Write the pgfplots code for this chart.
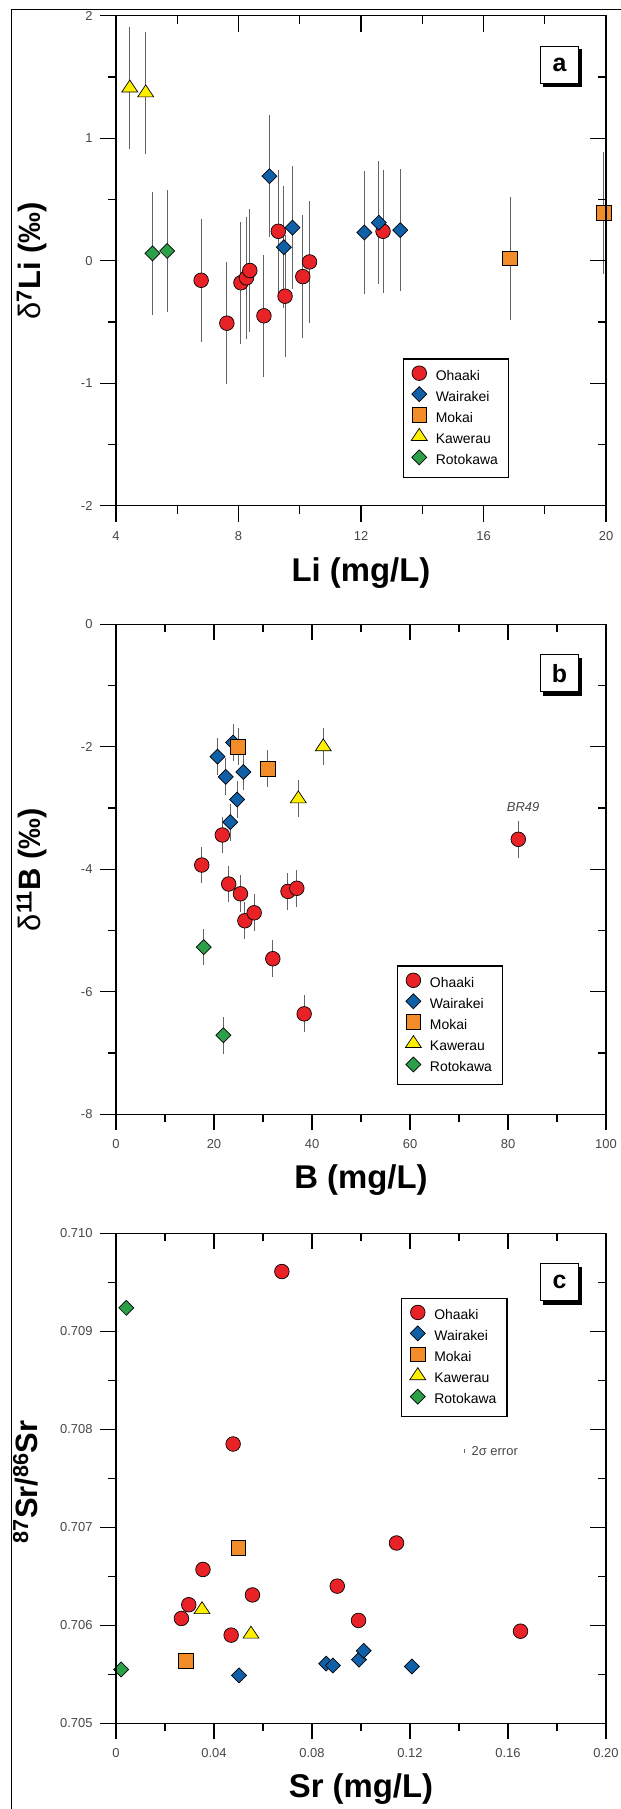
\documentclass[border=0pt]{standalone}
\usepackage{pgfplots}
\usepackage{pgfplotstable}
\pgfplotsset{compat=1.18}
\usepackage{fontspec}
\setmainfont{Liberation Sans}

\definecolor{ohaaki}{RGB}{232,34,38}
\definecolor{wairakei}{RGB}{16,96,168}
\definecolor{mokai}{RGB}{242,140,40}
\definecolor{kawerau}{RGB}{255,240,0}
\definecolor{rotokawa}{RGB}{44,160,72}
\definecolor{ticktext}{RGB}{70,70,70}
\definecolor{errgray}{RGB}{100,100,100}

% ---- panel a: Li (mg/L), d7Li, 2 sigma = 0.5
\pgfplotstableread{
x y e
6.78 -0.16 0.5
7.62 -0.51 0.5
8.08 -0.18 0.5
8.26 -0.14 0.5
8.37 -0.08 0.5
8.83 -0.45 0.5
9.30 0.24 0.5
9.52 -0.29 0.5
10.10 -0.13 0.5
10.32 -0.01 0.5
12.72 0.24 0.5
}\aOhaaki
\pgfplotstableread{
x y e
9.01 0.69 0.5
9.48 0.11 0.5
9.76 0.27 0.5
12.11 0.23 0.5
12.58 0.31 0.5
13.28 0.25 0.5
}\aWairakei
\pgfplotstableread{
x y e
16.87 0.02 0.5
19.93 0.39 0.5
}\aMokai
\pgfplotstableread{
x y e
4.45 1.41 0.5
4.97 1.37 0.5
}\aKawerau
\pgfplotstableread{
x y e
5.19 0.06 0.5
5.67 0.08 0.5
}\aRotokawa

% ---- panel b: B (mg/L), d11B
\pgfplotstableread{
x y e
17.5 -3.93 0.3
21.7 -3.44 0.3
23.0 -4.24 0.3
25.4 -4.40 0.3
26.3 -4.84 0.3
28.2 -4.71 0.3
32.0 -5.46 0.3
35.1 -4.36 0.3
36.9 -4.31 0.3
38.4 -6.36 0.3
82.1 -3.51 0.3
}\bOhaaki
\pgfplotstableread{
x y e
20.7 -2.16 0.3
23.9 -1.93 0.3
22.4 -2.49 0.3
26.0 -2.41 0.3
24.7 -2.86 0.3
23.3 -3.23 0.3
}\bWairakei
\pgfplotstableread{
x y e
24.9 -2.00 0.3
31.0 -2.36 0.3
}\bMokai
\pgfplotstableread{
x y e
42.3 -2.00 0.3
37.2 -2.85 0.3
}\bKawerau
\pgfplotstableread{
x y e
17.9 -5.27 0.3
21.9 -6.71 0.3
}\bRotokawa

% ---- panel c: Sr (mg/L), 87Sr/86Sr
\pgfplotstableread{
x y
0.0677 0.70961
0.0478 0.70785
0.1145 0.70684
0.0355 0.70657
0.0903 0.70640
0.0557 0.70631
0.0297 0.70621
0.0267 0.70607
0.0990 0.70605
0.0470 0.70590
0.1651 0.70594
}\cOhaaki
\pgfplotstableread{
x y
0.0502 0.70549
0.0858 0.70561
0.0885 0.70559
0.0992 0.70565
0.1011 0.70574
0.1208 0.70558
}\cWairakei
\pgfplotstableread{
x y
0.0499 0.70679
0.0284 0.70564
}\cMokai
\pgfplotstableread{
x y
0.0351 0.70616
0.0551 0.70591
}\cKawerau
\pgfplotstableread{
x y
0.0042 0.70924
0.0021 0.70555
}\cRotokawa

\pgfplotsset{
  panel/.style={
    width=490bp, height=490bp, scale only axis,
    anchor=north west,
    clip=false,
    axis line style={line width=1.3bp},
    major tick length=16bp, minor tick length=8bp,
    every tick/.style={line width=1.3bp, black},
    minor x tick num=1, minor y tick num=1,
    tick label style={font=\fontsize{13}{13}\selectfont, text=ticktext},
    xticklabel style={yshift=-6bp},
    yticklabel style={xshift=-4bp},
  },
  outer/.style={panel, tick align=outside, xtick pos=left, ytick pos=left,
    legend style={anchor=north west, draw=black, line width=1.3bp, fill=white,
      inner xsep=8bp, inner ysep=7bp, font=\fontsize{14}{14}\selectfont,
      row sep=0.6bp, column sep=6bp,
      nodes={inner sep=2.6bp, text height=10.5bp, text depth=3bp},
      cells={anchor=west}},
    legend image code/.code={\draw[#1] plot coordinates {(0bp,3.5bp)};},
  },
  inner/.style={panel, tick align=inside, xtick pos=right, ytick pos=right,
    xticklabels={}, yticklabels={}},
  err/.style={forget plot, only marks, mark=none,
    error bars/.cd, y dir=both, y explicit, error mark=none,
    error bar style={line width=1bp, draw=errgray}},
  mOhaaki/.style={only marks, mark=*, mark size=7.3bp,
    mark options={fill=ohaaki, draw=black, line width=0.7bp}},
  mWairakei/.style={only marks, mark=square*, mark size=5.3bp,
    mark options={rotate=45, fill=wairakei, draw=black, line width=0.7bp}},
  mMokai/.style={only marks, mark=square*, mark size=7.4bp,
    mark options={fill=mokai, draw=black, line width=0.7bp}},
  mKawerau/.style={only marks, mark=triangle*, mark size=8bp,
    mark options={xscale=1.15, fill=kawerau, draw=black, line width=0.7bp}},
  mRotokawa/.style={only marks, mark=square*, mark size=5.3bp,
    mark options={rotate=45, fill=rotokawa, draw=black, line width=0.7bp}},
}

\newcommand{\panellabel}[1]{%
  \node[fill=black, minimum width=39bp, minimum height=38bp, inner sep=0pt]
    at ([shift={(3.5bp,-3.5bp)}]rel axis cs:0.905,0.9) {};
  \node[draw=black, line width=1.3bp, fill=white, minimum width=38bp,
    minimum height=37bp, inner sep=0pt,
    font=\fontsize{25}{25}\bfseries\selectfont]
    at (rel axis cs:0.905,0.9) {#1};
}
\tikzset{
  xlab/.style={anchor=base, font=\fontsize{33}{33}\bfseries\selectfont},
  ylab/.style={anchor=base, rotate=90, font=\fontsize{31}{31}\bfseries\selectfont},
}

\begin{document}
\begin{tikzpicture}
\path[use as bounding box] (0,0) rectangle (621bp,-1809bp);
\draw[line width=1.2bp] (11.7bp,-1815bp) -- (11.7bp,-9.3bp) -- (630bp,-9.3bp);

% ================= panel a =================
\begin{axis}[outer, at={(116bp,-15.7bp)},
  xmin=4, xmax=20, ymin=-2, ymax=2,
  xtick={4,8,12,16,20}, xticklabels={4,8,12,16,20},
  ytick={-2,-1,0,1,2}, yticklabels={-2,-1,0,1,2},
  legend style={at={(rel axis cs:0.585,0.301)}},
]
\addplot[err] table[x=x,y=y,y error=e] {\aOhaaki};
\addplot[err] table[x=x,y=y,y error=e] {\aWairakei};
\addplot[err] table[x=x,y=y,y error=e] {\aMokai};
\addplot[err] table[x=x,y=y,y error=e] {\aKawerau};
\addplot[err] table[x=x,y=y,y error=e] {\aRotokawa};
\addplot[mOhaaki] table[x=x,y=y] {\aOhaaki};
\addplot[mWairakei] table[x=x,y=y] {\aWairakei};
\addplot[mMokai] table[x=x,y=y] {\aMokai};
\addplot[mKawerau] table[x=x,y=y] {\aKawerau};
\addplot[mRotokawa] table[x=x,y=y] {\aRotokawa};
\legend{Ohaaki,Wairakei,Mokai,Kawerau,Rotokawa}
\panellabel{a}
\end{axis}
\begin{axis}[inner, at={(116bp,-15.7bp)},
  xmin=4, xmax=20, ymin=-2, ymax=2,
  xtick={4,8,12,16,20}, ytick={-2,-1,0,1,2}]
\end{axis}
\node[xlab] at (361bp,-581.7bp) {Li (mg/L)};
\node[ylab] at (40.7bp,-260.7bp) {{\mdseries δ}\textsuperscript{7}Li (‰)};

% ================= panel b =================
\begin{axis}[outer, at={(116bp,-624.3bp)},
  xmin=0, xmax=100, ymin=-8, ymax=0,
  xtick={0,20,40,60,80,100}, xticklabels={0,20,40,60,80,100},
  ytick={-8,-6,-4,-2,0}, yticklabels={-8,-6,-4,-2,0},
  legend style={at={(rel axis cs:0.573,0.304)}},
]
\addplot[err] table[x=x,y=y,y error=e] {\bOhaaki};
\addplot[err] table[x=x,y=y,y error=e] {\bWairakei};
\addplot[err] table[x=x,y=y,y error=e] {\bMokai};
\addplot[err] table[x=x,y=y,y error=e] {\bKawerau};
\addplot[err] table[x=x,y=y,y error=e] {\bRotokawa};
\addplot[mOhaaki] table[x=x,y=y] {\bOhaaki};
\addplot[mWairakei] table[x=x,y=y] {\bWairakei};
\addplot[mMokai] table[x=x,y=y] {\bMokai};
\addplot[mKawerau] table[x=x,y=y] {\bKawerau};
\addplot[mRotokawa] table[x=x,y=y] {\bRotokawa};
\legend{Ohaaki,Wairakei,Mokai,Kawerau,Rotokawa}
\node[font=\fontsize{13}{13}\itshape\selectfont, text=ticktext] at (axis cs:83.1,-2.99) {BR49};
\panellabel{b}
\end{axis}
\begin{axis}[inner, at={(116bp,-624.3bp)},
  xmin=0, xmax=100, ymin=-8, ymax=0,
  xtick={0,20,40,60,80,100}, ytick={-8,-6,-4,-2,0}]
\end{axis}
\node[xlab] at (361bp,-1188.3bp) {B (mg/L)};
\node[ylab] at (40.7bp,-869.7bp) {{\mdseries δ}\textsuperscript{11}B (‰)};

% ================= panel c =================
\begin{axis}[outer, at={(116bp,-1233.3bp)},
  xmin=0, xmax=0.2, ymin=0.705, ymax=0.710,
  xtick={0,0.04,0.08,0.12,0.16,0.2}, xticklabels={0,0.04,0.08,0.12,0.16,0.20},
  ytick={0.705,0.706,0.707,0.708,0.709,0.710},
  yticklabels={0.705,0.706,0.707,0.708,0.709,0.710},
  legend style={at={(rel axis cs:0.582,0.869)}},
]
\addplot[mOhaaki] table[x=x,y=y] {\cOhaaki};
\addplot[mWairakei] table[x=x,y=y] {\cWairakei};
\addplot[mMokai] table[x=x,y=y] {\cMokai};
\addplot[mKawerau] table[x=x,y=y] {\cKawerau};
\addplot[mRotokawa] table[x=x,y=y] {\cRotokawa};
\legend{Ohaaki,Wairakei,Mokai,Kawerau,Rotokawa}
\draw[line width=0.8bp, errgray] (axis cs:0.1420,0.70776) -- (axis cs:0.1420,0.70780);
\node[anchor=west, font=\fontsize{13}{13}\selectfont, text=ticktext, inner sep=0pt]
  at (axis cs:0.1451,0.70778) {2σ error};
\panellabel{c}
\end{axis}
\begin{axis}[inner, at={(116bp,-1233.3bp)},
  xmin=0, xmax=0.2, ymin=0.705, ymax=0.710,
  xtick={0,0.04,0.08,0.12,0.16,0.2}, ytick={0.705,0.706,0.707,0.708,0.709,0.710}]
\end{axis}
\node[xlab] at (361bp,-1797.3bp) {Sr (mg/L)};
\node[ylab] at (37bp,-1482bp) {\textsuperscript{87}Sr/\textsuperscript{86}Sr};
\end{tikzpicture}
\end{document}
